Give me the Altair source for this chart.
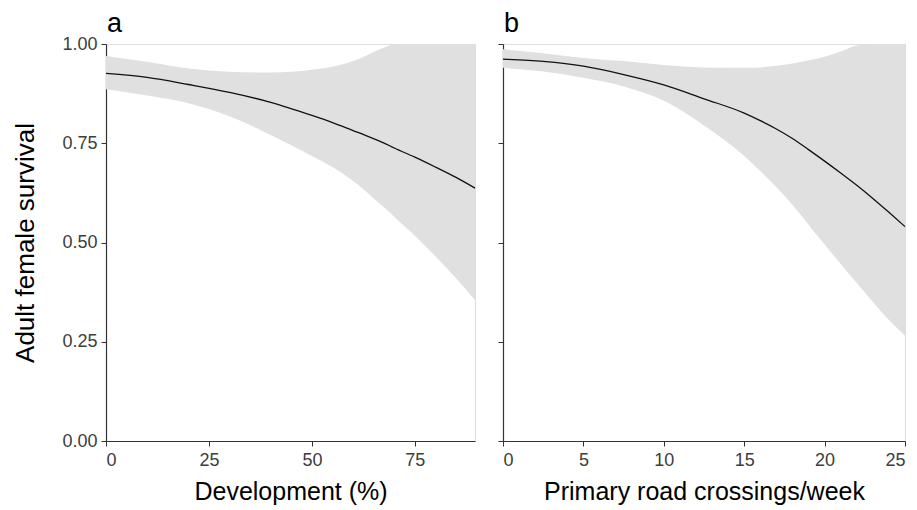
import altair as alt
import pandas as pd

# Panel a: Development (%)
dev_x = [0, 10, 20, 30, 40, 50, 55, 60, 63, 66, 69, 70, 75, 80, 85, 89.6]
dev_fit = [0.926, 0.916, 0.898, 0.878, 0.853, 0.820, 0.802, 0.782, 0.770, 0.757, 0.743, 0.738, 0.715, 0.690, 0.664, 0.637]
dev_upper = [0.970, 0.955, 0.938, 0.930, 0.928, 0.935, 0.943, 0.957, 0.970, 0.985, 0.997, 1.0, 1.0, 1.0, 1.0, 1.0]
dev_lower = [0.886, 0.870, 0.851, 0.818, 0.771, 0.718, 0.690, 0.655, 0.630, 0.602, 0.575, 0.565, 0.517, 0.465, 0.410, 0.355]

# Panel b: Primary road crossings/week
road_x = [0, 2.5, 5, 7.5, 10, 12.5, 15, 16, 17, 18, 19, 20, 21, 22, 23, 24, 25]
road_fit = [0.962, 0.956, 0.944, 0.923, 0.897, 0.862, 0.826, 0.807, 0.786, 0.762, 0.734, 0.705, 0.675, 0.644, 0.611, 0.576, 0.540]
road_upper = [0.987, 0.977, 0.965, 0.957, 0.947, 0.941, 0.940, 0.941, 0.945, 0.951, 0.959, 0.968, 0.981, 0.996, 1.0, 1.0, 1.0]
road_lower = [0.940, 0.931, 0.915, 0.893, 0.857, 0.795, 0.718, 0.680, 0.640, 0.595, 0.545, 0.495, 0.446, 0.398, 0.350, 0.305, 0.265]

panel_labels = ["a", "b"]
y_ticks = [0, 0.25, 0.5, 0.75, 1.0]

FONT = "Liberation Sans"
BAND = "#e0e0e0"
LABEL = "#3d3d3d"


def panel(xs, fit, lo, hi, xmax, xticks, xtitle, letter, width, show_y):
    df = pd.DataFrame({"x": xs, "fit": fit, "lo": lo, "hi": hi})
    xscale = alt.Scale(domain=[0, xmax], nice=False, zero=False)
    yscale = alt.Scale(domain=[0, 1], nice=False)
    xaxis = alt.Axis(values=xticks, title=xtitle, grid=False, labelFontSize=18,
                     titleFontSize=25, labelColor=LABEL, titleColor="#000000",
                     domainColor="#333333", tickColor="#333333", tickSize=5,
                     labelPadding=5, titlePadding=10, titleFontWeight="normal",
                     labelFont=FONT, titleFont=FONT, domainWidth=1.2)
    if show_y:
        yaxis = alt.Axis(values=y_ticks, format=".2f", title="Adult female survival",
                         grid=False, labelFontSize=18, titleFontSize=26,
                         labelColor=LABEL, titleColor="#000000",
                         domainColor="#333333", tickColor="#333333", tickSize=5,
                         labelPadding=4, titlePadding=23, titleFontWeight="normal",
                         labelFont=FONT, titleFont=FONT, domainWidth=1.2)
    else:
        yaxis = alt.Axis(values=y_ticks, labels=False, title=None, grid=False,
                         domainColor="#333333", tickColor="#333333", tickSize=5,
                         domainWidth=1.2)
    base = alt.Chart(df)
    band = base.mark_area(color=BAND, opacity=1, interpolate="monotone").encode(
        x=alt.X("x:Q", scale=xscale, axis=xaxis),
        y=alt.Y("lo:Q", scale=yscale, axis=yaxis),
        y2="hi:Q",
    )
    line = base.mark_line(color="#111111", strokeWidth=1.3, interpolate="monotone").encode(
        x=alt.X("x:Q", scale=xscale),
        y=alt.Y("fit:Q", scale=yscale),
    )
    lab = alt.Chart(pd.DataFrame({"t": [letter]})).mark_text(
        align="left", baseline="alphabetic", fontSize=27, font=FONT, color="#000000"
    ).encode(x=alt.value(1), y=alt.value(-12), text="t:N")
    return alt.layer(band, line, lab).properties(width=width, height=397)


pa = panel(dev_x, dev_fit, dev_lower, dev_upper, 89.6, [0, 25, 50, 75],
           "Development (%)", panel_labels[0], 369, True)
pb = panel(road_x, road_fit, road_lower, road_upper, 25, [0, 5, 10, 15, 20, 25],
           "Primary road crossings/week", panel_labels[1], 402, False)

chart = alt.hconcat(pa, pb, spacing=18).properties(
    padding={"left": 12, "top": 9, "right": 5, "bottom": 5}
).configure_view(stroke=None).configure(background="white")

chart.save("out.html", embed_options={"renderer": "svg", "actions": False})
